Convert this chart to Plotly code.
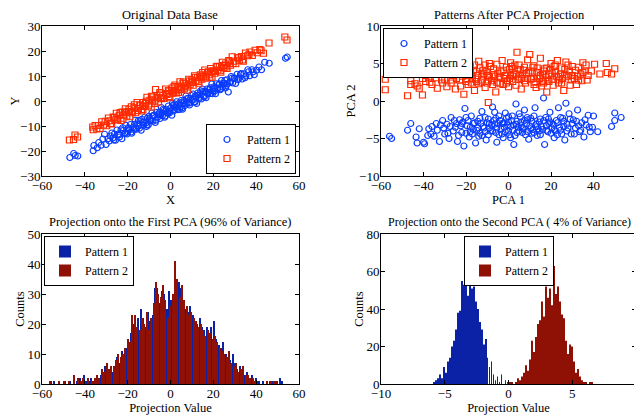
import plotly.graph_objects as go

# --- data ----------------------------------------------------------------
# Original data base (X, Y)
p1_x = [-47.0, -45.2, -44.5, -43.3, -36.1, -35.8, -34.2, -33.5, -32.4, -31.6, -30.8, -30.1, -29.2, -28.5,
        -27.4, -26.9, -26.2, -25.7, -25.0, -24.4, -23.8, -23.1, -22.7, -22.0, -21.4, -20.9, -20.3, -19.8,
        -19.2, -18.7, -18.1, -17.6, -17.0, -16.5, -15.9, -15.4, -14.8, -14.2, -13.7, -13.1, -12.6, -12.0,
        -11.5, -10.9, -10.4, -9.8, -9.3, -8.7, -8.2, -7.6, -7.1, -6.5, -6.0, -5.4, -4.9, -4.3, -3.8, -3.2,
        -2.7, -2.1, -1.6, -1.0, -0.5, 0.1, 0.6, 1.2, 1.7, 2.3, 2.8, 3.4, 3.9, 4.5, 5.0, 5.6, 6.1, 6.7,
        7.2, 7.8, 8.3, 8.9, 9.4, 10.0, 10.5, 11.1, 11.6, 12.2, 12.7, 13.3, 13.8, 14.4, 14.9, 15.5, 16.0,
        16.6, 17.1, 17.7, 18.2, 18.8, 19.3, 19.9, 20.4, 21.0, 21.5, 22.1, 22.6, 23.2, 23.8, 24.4, 25.0,
        25.7, 26.3, 27.0, 27.6, 28.3, 29.0, 29.7, 30.4, 31.1, 31.9, 32.7, 33.5, 34.3, 35.2, 36.1, 37.0,
        38.0, 39.1, 40.2, 41.3, 42.5, 44.0, 46.1, 53.7, 54.5, -20.0, -15.0, -11.0, -5.0, -1.3, 2.0, 4.2,
        9.0, 11.9, 15.2, 20.7, 26.6, -8.0, 6.4,
        -28.0, -26.5, -24.0, -22.3, -21.0, -19.5, -18.4, -16.8, -16.2, -14.5, -13.4, -12.3, -11.2, -10.1,
        -9.0, -7.9, -6.8, -5.7, -4.6, -3.5, -2.4, -1.9, -0.2, 0.9, 1.4, 2.6, 3.1, 4.8, 5.3, 6.9, 7.5, 8.6,
        9.7, 10.8, 11.4, 12.9, 13.5, 14.1, 15.8, 16.3, 17.4, 18.5, 19.6, 20.1, 21.8, 22.9, 23.5, 24.7,
        25.4, 26.0, 28.0, 28.7, 30.0, 31.5, 33.0, 34.8, 36.5, 38.6]
p1_y = [-22.6, -21.0, -21.8, -22.0, -19.9, -17.8, -18.7, -16.6, -17.7, -15.2, -13.3, -17.4, -15.1, -16.0,
        -12.8, -14.8, -13.2, -15.7, -11.6, -13.2, -14.4, -11.5, -15.1, -11.8, -12.8, -9.7, -13.2, -10.7,
        -11.6, -9.4, -12.9, -10.6, -11.4, -7.7, -11.3, -9.2, -10.0, -7.9, -11.7, -8.6, -9.7, -6.4,
        -8.8, -6.9, -9.6, -7.1, -7.5, -4.8, -8.1, -5.8, -8.6, -4.6, -6.5, -5.5, -7.0, -2.6, -5.9, -3.8,
        -6.5, -3.9, -4.5, -2.0, -4.8, -2.8, -5.7, -1.7, -3.4, -2.5, -0.3, -3.5, -1.0, -2.4, 0.2, -3.3,
        -0.7, -1.8, 2.0, -0.7, 1.1, -1.6, 1.0, 0.4, 2.8, -0.3, 2.1, -1.0, 3.2, 1.4, 2.4, 0.8, 4.8, 2.0,
        4.0, 1.3, 4.8, 3.5, 4.5, 3.0, 6.8, 4.0, 5.0, 2.9, 6.9, 5.2, 6.6, 4.5, 8.2, 5.6, 7.2, 5.2, 8.5,
        3.6, 7.5, 9.8, 7.2, 9.3, 7.0, 10.7, 9.1, 10.7, 8.8, 10.9, 10.0, 12.5, 10.1, 12.5, 10.5, 12.3,
        13.6, 12.5, 15.5, 15.1, 17.1, 17.6, -12.3, -7.8, -9.6, -4.4, -4.9, -1.2, -3.4, -0.6, 1.8, 3.8,
        4.0, 6.9, -5.9, 0.2,
        -14.0, -15.6, -13.5, -10.7, -13.0, -11.0, -12.4, -9.3, -10.8, -10.9, -7.3, -8.3, -10.2, -6.1,
        -7.8, -5.7, -7.7, -5.2, -5.6, -3.3, -6.0, -3.3, -4.0, -0.9, -4.0, -1.9, -3.0, -0.6, -2.8, -1.1,
        0.9, -0.9, 2.2, 0.6, -0.5, 2.4, 1.0, 4.1, 1.7, 3.6, 2.8, 5.3, 2.9, 5.6, 4.8, 6.9, 4.9, 6.9, 8.3,
        6.2, 7.6, 9.2, 9.0, 8.5, 11.0, 9.3, 11.7, 11.7]
p2_x = [-47.2, -45.3, -44.6, -43.4, -36.3, -36.1, -35.2, -34.4, -33.6, -32.9, -32.1, -31.3, -30.5, -29.8,
        -29.0, -28.3, -27.5, -26.8, -26.0, -25.3, -24.6, -23.9, -23.1, -22.5, -21.8, -21.1, -20.4, -19.7,
        -19.0, -18.3, -17.7, -17.0, -16.3, -15.6, -15.0, -14.3, -13.6, -13.0, -12.3, -11.6, -11.0, -10.3,
        -9.6, -9.0, -8.3, -7.6, -7.0, -6.3, -5.6, -5.0, -4.3, -3.6, -3.0, -2.3, -1.6, -1.0, -0.3, 0.4,
        1.1, 1.7, 2.4, 3.1, 3.8, 4.4, 5.1, 5.8, 6.5, 7.2, 7.8, 8.5, 9.2, 9.9, 10.6, 11.2, 11.9, 12.6,
        13.3, 13.9, 14.6, 15.3, 16.0, 16.6, 17.3, 18.0, 18.7, 19.4, 20.0, 20.7, 21.4, 22.1, 22.8, 23.5,
        24.2, 24.9, 25.7, 26.4, 27.2, 28.0, 28.8, 29.6, 30.5, 31.3, 32.2, 33.1, 34.0, 35.0, 36.0, 37.1,
        38.2, 39.5, 40.5, 41.7, 42.3, 43.4, 46.0, 53.4, 54.4, -21.5, -16.7, -12.8, -8.7, -4.7, -0.7, 3.5,
        6.9, 10.2, 14.3, 19.0, 23.9,
        -28.0, -26.4, -24.9, -23.5, -22.2, -20.8, -19.4, -18.0, -16.9, -15.3, -14.0, -12.9, -11.3, -10.0,
        -8.9, -7.3, -6.0, -4.8, -3.3, -2.0, -0.8, 0.8, 1.4, 2.1, 2.9, 4.0, 4.8, 6.1, 6.8, 8.1, 8.8, 10.4,
        11.6, 12.9, 13.6, 15.0, 16.3, 17.6, 18.4, 19.7, 21.0, 21.8, 23.2, 24.6, 26.0, 27.6, 29.2, 31.8,
        33.6, 36.6]
p2_y = [-15.6, -15.4, -13.6, -14.4, -10.4, -11.5, -9.8, -11.2, -9.8, -11.0, -8.3, -9.6, -8.1, -9.9,
        -6.8, -7.9, -9.2, -6.4, -7.6, -4.9, -7.5, -5.7, -7.8, -4.4, -5.6, -3.1, -6.0, -4.2, -6.3, -2.3,
        -4.3, -2.7, -4.7, -0.6, -3.0, -1.5, -4.0, -0.6, -2.2, -1.0, 1.5, -1.9, 0.3, -2.4, 1.6, 0.0, 4.6,
        1.5, -0.4, 3.4, 0.9, 2.2, 1.0, 4.8, 2.6, 4.1, 1.3, 4.2, 3.1, 5.8, 4.0, 5.6, 3.4, 7.7, 5.5, 7.1,
        5.1, 6.9, 4.4, 8.7, 6.7, 8.5, 6.3, 10.1, 8.1, 9.3, 7.1, 10.5, 8.7, 9.9, 12.4, 9.1, 11.3, 10.5,
        13.0, 9.5, 12.0, 11.1, 13.7, 12.4, 13.8, 11.5, 15.5, 13.2, 14.8, 13.0, 16.2, 14.3, 17.7, 15.9,
        14.9, 17.3, 16.3, 17.8, 15.9, 19.2, 18.1, 19.6, 18.2, 20.3, 19.3, 20.6, 20.1, 19.1, 23.2, 25.6,
        24.4, -4.5, -2.9, -1.9, 0.7, 1.3, 4.1, 4.5, 6.0, 7.9, 10.0, 11.6, 13.4,
        -9.0, -6.6, -7.1, -4.6, -6.9, -4.7, -3.3, -4.7, -1.5, -3.8, -1.9, -3.4, -0.1, -1.2, 1.9, -1.0,
        1.4, 2.8, 1.2, 3.0, 1.8, 5.2, 3.5, 6.4, 3.2, 5.6, 4.6, 7.6, 6.1, 5.6, 8.0, 7.4, 9.5, 7.8, 9.5,
        11.4, 9.6, 11.7, 9.5, 12.1, 11.8, 13.9, 12.1, 14.2, 13.6, 15.7, 15.0, 17.3, 16.4, 18.5]

# Patterns after PCA projection (PCA 1, PCA 2)
pca1_p1 = [-56.0, -55.0, -47.5, -46.0, -43.5, -43.0, -42.0, -40.0, -39.5, -38.0, -37.5, -36.0, -35.0,
           -33.5, -32.5, -31.0, -30.0, -29.0, -28.0, -27.0, -26.0, -25.0, -24.0, -23.0, -22.0, -21.0,
           -20.5, -19.5, -18.5, -17.5, -16.5, -15.5, -14.5, -13.5, -12.5, -11.5, -10.5, -9.5, -8.5, -7.5,
           -6.5, -5.5, -4.5, -3.5, -2.5, -1.5, -0.5, 0.5, 1.5, 2.5, 3.5, 4.5, 5.5, 6.5, 7.5, 8.5, 9.5,
           10.5, 11.5, 12.5, 13.5, 14.5, 15.5, 16.5, 17.0, 17.5, 18.5, 19.5, 20.5, 21.5, 22.5, 23.5, 24.5,
           25.5, 26.5, 27.0, 27.5, 28.5, 29.5, 30.5, 31.5, 32.5, 33.5, 34.5, 35.5, 36.5, 37.5, 38.5, 39.5,
           40.0, 42.0, 48.5, 50.0, 50.0, 53.0, -5.0, 0.0, 2.0, 6.0, 9.0, 11.0, -9.0, -13.0, 14.0, 19.0,
           4.0, -2.0, -24.5, -23.5, -22.5, -21.5, -20.0, -19.0, -18.0, -17.0, -16.0, -15.0, -14.0, -13.5,
           -12.0, -11.0, -10.0, -9.5, -8.0, -7.0, -6.0, -5.5, -4.0, -3.0, -2.0, -1.0, 0.0, 1.0, 1.8, 3.0,
           3.8, 5.0, 5.8, 7.0, 8.0, 8.8, 10.0, 11.0, 12.0, 13.0, 14.5, 15.0, 16.0, 17.8, 18.8, 20.0, 21.0,
           22.0, 23.0, 24.0, 25.0, 26.0, 28.0, 29.0, 31.0, 33.0, 36.0, 38.0, -27.5, -30.5, -34.0, -36.5,
           -22.0, -20.0, -18.0, -16.5, -14.5, -12.5, -11.0, -9.0, -7.5, -6.0, -4.5, -3.0, -1.5, 0.0, 1.0,
           2.5, 4.0, 5.0, 6.5, 7.5, 9.0, 10.5, 12.0, 13.5, 15.0, 16.5, 18.0, 19.5, 21.5, 23.0, 24.5, 26.0,
           27.5, 30.0, 32.0, 34.0, -25.5, -28.5, -32.0, -6.5]
pca2_p1 = [-4.7, -5.0, -3.9, -3.0, -4.8, -5.6, -3.7, -5.5, -5.7, -4.6, -3.7, -3.4, -4.7, -3.9, -5.4,
           -2.6, -4.4, -3.1, -5.0, -2.2, -4.0, -3.5, -5.4, -2.5, -4.2, -6.0, -1.0, -3.3, -4.8, -2.0,
           -3.8, -5.6, -2.7, -4.3, -1.4, -3.6, -5.2, -2.4, -4.0, -0.8, -3.1, -5.5, -2.0, -3.7, -4.9,
           -1.6, -3.2, -4.5, -2.6, -5.8, -0.4, -3.5, -2.1, -4.2, -1.2, -3.0, -5.1, -2.3, -3.8, -0.9,
           -4.6, -2.8, -3.4, 0.4, -5.8, -2.2, -4.1, -1.5, -3.6, -4.9, -2.6, -0.9, -3.9, -2.3, -5.2,
           -0.3, -3.1, -1.7, -4.4, -2.5, -3.6, -1.2, -4.1, -2.9, -4.8, -3.2, -1.9, -4.1, -3.5, -2.0,
           -4.1, -3.4, -2.6, -1.6, -2.2, -3.0, -2.8, -3.9, -3.3, -2.5, -4.3, -3.6, -3.0, -3.7, -3.0,
           -2.7, -2.9, -3.0, -4.6, -3.3, -2.8, -4.3, -2.6, -3.5, -4.4, -2.9, -3.9, -4.7, -2.3, -3.4,
           -4.1, -2.9, -4.5, -3.2, -2.6, -4.2, -3.6, -2.6, -4.4, -3.5, -2.3, -4.0, -3.4, -2.0, -4.6,
           -3.1, -4.0, -2.8, -3.7, -4.5, -2.2, -3.3, -2.7, -4.2, -3.1, -4.0, -2.4, -3.8, -3.3, -2.4,
           -4.3, -3.1, -4.0, -2.9, -3.5, -4.4, -2.7, -3.6, -2.4, -4.4, -3.3, -2.5, -3.5, -3.4, -3.6,
           -3.0, -4.4,
           -3.0, -2.2, -4.1, -3.0, -3.6, -4.6, -2.2, -3.0, -4.0, -2.3, -4.5, -3.0, -4.1, -2.1, -4.9,
           -3.2, -4.2, -1.7, -3.6, -2.6, -4.1, -3.7, -2.0, -3.4, -4.5, -2.6, -3.9, -2.8, -3.8, -4.5,
           -2.2, -3.4, -4.0, -3.0, -2.7, -3.9, -2.6, -4.3, -3.2, -1.5]
pca1_p2 = [-58.0, -58.0, -51.0, -47.5, -46.0, -46.0, -43.5, -43.0, -42.0, -40.5, -40.5, -39.0, -37.5,
           -36.0, -35.0, -33.5, -32.5, -31.5, -30.0, -29.0, -28.0, -27.0, -26.0, -25.0, -24.0, -23.0,
           -22.0, -21.0, -20.0, -19.0, -18.0, -17.0, -16.0, -15.0, -14.0, -13.0, -12.0, -11.0, -10.0,
           -9.5, -9.0, -8.0, -7.0, -6.0, -5.0, -4.0, -3.0, -2.0, -1.0, 0.0, 1.0, 2.0, 3.0, 4.0, 5.0,
           6.0, 7.0, 8.0, 9.0, 10.0, 11.0, 12.0, 13.0, 14.0, 15.0, 16.0, 17.0, 18.0, 19.0, 20.0, 21.0,
           22.0, 23.0, 24.0, 25.0, 26.0, 27.0, 28.0, 29.0, 30.0, 31.0, 32.0, 33.0, 34.0, 35.0, 36.0,
           37.5, 46.0, 46.5, 48.5, 50.0, -15.5, -10.5, -4.5, 0.5, 4.5, 8.5, 13.5, 18.5, -7.5, 2.5,
           10.5, 16.5, -24.5, -23.5, -22.5, -21.5, -20.5, -19.5, -18.5, -17.5, -16.5, -15.0, -14.5,
           -13.5, -12.5, -11.5, -10.0, -9.0, -8.5, -6.5, -5.5, -3.5, -2.5, -1.5, -0.5, 1.5, 2.0, 3.5,
           5.5, 6.5, 7.5, 9.5, 11.5, 12.5, 14.5, 15.5, 16.0, 17.5, 19.5, 20.5, 21.5, 22.5, 23.5, 24.5,
           25.5, 26.5, 28.5, 29.5, 31.5, 32.5, 34.5, 36.5, -26.5, -28.5, -31.0, -34.0, -37.0, 39.0,
           37.0, 40.5, -44.0, 43.0,
           -22.5, -20.0, -18.0, -16.0, -14.0, -12.5, -11.0, -9.5, -7.0, -5.5, -4.0, -2.5, -1.0, 0.5, 2.0,
           3.5, 5.0, 6.0, 7.5, 9.0, 10.5, 12.0, 13.5, 15.0, 16.5, 18.0, 19.0, 20.5, 22.0, 23.5, 25.0,
           26.5, 28.0, 30.0, 33.0, 35.0, -27.0, -30.0, -33.0, 1.0]
pca2_p2 = [2.9, 1.5, 3.6, 0.7, 2.7, 2.2, 4.2, 2.0, 1.7, 0.8, 3.0, 2.6, 3.1, 2.2, 3.6, 1.7, 4.4, 2.8,
           3.7, 1.9, 4.9, 2.4, 3.4, 1.6, 4.2, 2.8, 5.1, 0.9, 3.6, 2.2, 4.6, 3.0, 1.4, 3.9, 5.3, 2.5,
           4.1, 1.8, 3.4, -0.2, 5.0, 2.7, 4.3, 1.2, 3.7, 2.3, 5.4, 3.0, 4.5, 1.9, 3.5, 2.6, 4.8, 6.5,
           3.2, 1.6, 4.1, 2.4, 5.5, 6.2, 3.0, 4.7, 1.8, 3.8, 5.7, 2.6, 4.3, 1.2, 3.5, 5.0, 2.1, 3.9,
           5.4, 2.8, 4.4, 1.4, 5.2, 3.3, 2.1, 4.6, 3.0, 2.2, 4.5, 3.6, 5.1, 4.0, 3.4, 5.0, 3.8, 3.6,
           4.3, 2.9, 3.9, 3.1, 4.2, 2.9, 3.7, 3.2, 2.8, 2.2, 3.6, 2.9, 4.0, 3.0, 3.9, 2.0, 3.3, 4.4,
           2.9, 3.6, 2.4, 4.1, 2.6, 3.4, 4.4, 2.8, 3.7, 2.4, 3.2, 4.6, 3.3, 2.5, 3.9, 2.2, 3.4, 2.7,
           4.6, 3.3, 2.1, 4.2, 3.5, 2.7, 3.8, 4.5, 2.5, 3.0, 2.0, 3.6, 3.1, 4.1, 2.9, 4.6, 3.3, 2.4,
           3.6, 3.0, 4.2, 3.9, 2.8, 4.1, 3.3, 2.7, 4.8, 2.8, 3.5, 2.4, 3.1, 2.5, 4.0, 2.8, 4.9, 2.3,
           3.6,
           4.0, 2.6, 3.4, 4.8, 2.3, 3.6, 4.8, 2.8, 3.5, 4.9, 3.2, 4.1, 2.4, 3.0, 4.3, 3.6, 4.8, 3.0,
           4.5, 3.0, 4.0, 2.2, 4.4, 3.4, 2.4, 4.4, 2.6, 3.7, 4.8, 3.3, 2.4, 3.5, 4.8, 3.4, 2.8, 3.8,
           3.9, 2.9, 3.8, 5.1]

# Histogram of the first PCA projection (100 bins)
hist1_start, hist1_width = -56.5, 1.1
hist1_p1 = [0, 1, 1, 0, 0, 0, 0, 1, 0, 1,
            0, 0, 1, 2, 1, 3, 1, 1, 2, 1,
            2, 2, 3, 3, 6, 4, 5, 4, 6, 9,
            7, 11, 9, 12, 14, 17, 20, 18, 22, 25,
            22, 19, 24, 21, 23, 32, 32, 27, 31, 30,
            25, 31, 28, 26, 30, 34, 32, 27, 25, 24,
            26, 23, 21, 20, 22, 19, 18, 19, 17, 19,
            21, 15, 13, 12, 14, 10, 9, 8, 10, 7,
            5, 6, 4, 3, 4, 2, 3, 1, 2, 1,
            0, 1, 0, 0, 1, 1, 0, 1, 2, 1]
hist1_p2 = [1, 0, 0, 0, 1, 0, 1, 0, 1, 0,
            3, 0, 2, 1, 2, 1, 2, 0, 1, 2,
            3, 2, 5, 4, 7, 5, 6, 6, 8, 10,
            9, 10, 12, 15, 14, 23, 23, 19, 18, 22,
            20, 24, 18, 22, 27, 34, 30, 29, 33, 28,
            22, 26, 30, 41, 35, 29, 33, 28, 26, 23,
            24, 22, 21, 19, 20, 18, 16, 18, 17, 15,
            16, 14, 12, 11, 10, 9, 11, 7, 6, 7,
            4, 5, 6, 3, 3, 2, 2, 1, 1, 0,
            0, 0, 1, 0, 1, 1, 1, 0, 0, 0]

# Histogram of the second PCA projection (80 bins)
hist2_start, hist2_width = -5.82, 0.156
hist2_p1 = [1, 2, 3, 5, 3, 9, 6, 12, 14, 20,
            23, 29, 38, 39, 55, 53, 60, 47, 55, 51,
            52, 44, 40, 33, 29, 21, 24, 14, 9, 12,
            5, 2, 4, 1, 5, 0, 2, 0, 0, 0,
            0, 0, 0, 0, 0, 0, 0, 0, 0, 0,
            0, 0, 0, 0, 0, 0, 0, 0, 0, 0,
            0, 0, 0, 0, 0, 0, 0, 0, 0, 0,
            0, 0, 0, 0, 0, 0, 0, 0, 0, 0]
hist2_p2 = [0, 0, 0, 0, 0, 0, 0, 0, 0, 0,
            0, 0, 0, 0, 0, 0, 0, 0, 0, 0,
            0, 0, 0, 0, 0, 0, 0, 0, 0, 0,
            0, 0, 0, 0, 0, 0, 0, 1, 1, 1,
            0, 1, 3, 2, 4, 6, 10, 7, 13, 23,
            17, 25, 32, 34, 44, 36, 52, 46, 51, 42,
            63, 48, 52, 44, 37, 35, 23, 16, 21, 20,
            12, 6, 8, 4, 2, 1, 1, 0, 1, 1]

hist1_x = [hist1_start + hist1_width * i for i in range(len(hist1_p1))]
hist2_x = [hist2_start + hist2_width * i for i in range(len(hist2_p1))]

BLUE_PT = "#0a3cff"
RED_PT = "#ff2a00"
BLUE_BAR = "#0b22a6"
RED_BAR = "#8f1106"
FONT = "Liberation Serif"

# the page body keeps its 8px default margin, so work in screen pixels minus that offset
OFF = 8
W, H = 642 - OFF, 416 - OFF


def fx(px):
    return (px - OFF) / W


def fy(py):
    return 1 - (py - OFF) / H


fig = go.Figure()


def pts(x, y, name, legend, symbol, color, xa, ya):
    return go.Scatter(x=x, y=y, mode="markers", name=name, legend=legend,
                      marker=dict(symbol=symbol, size=6, color=color, line=dict(width=1.2)),
                      xaxis=xa, yaxis=ya)


# scatter, original data
fig.add_trace(pts(p1_x, p1_y, "Pattern 1", "legend", "circle-open", BLUE_PT, "x", "y"))
fig.add_trace(pts(p2_x, p2_y, "Pattern 2", "legend", "square-open", RED_PT, "x", "y"))
# scatter, PCA projection
fig.add_trace(pts(pca1_p1, pca2_p1, "Pattern 1", "legend2", "circle-open", BLUE_PT, "x2", "y2"))
fig.add_trace(pts(pca1_p2, pca2_p2, "Pattern 2", "legend2", "square-open", RED_PT, "x2", "y2"))
# histograms
fig.add_trace(go.Bar(x=hist1_x, y=hist1_p1, name="Pattern 1", legend="legend3",
                     marker=dict(color=BLUE_BAR, line=dict(width=0)), xaxis="x3", yaxis="y3"))
fig.add_trace(go.Bar(x=hist1_x, y=hist1_p2, name="Pattern 2", legend="legend3",
                     marker=dict(color=RED_BAR, line=dict(width=0)), xaxis="x3", yaxis="y3"))
fig.add_trace(go.Bar(x=hist2_x, y=hist2_p1, name="Pattern 1", legend="legend4",
                     marker=dict(color=BLUE_BAR, line=dict(width=0)), xaxis="x4", yaxis="y4"))
fig.add_trace(go.Bar(x=hist2_x, y=hist2_p2, name="Pattern 2", legend="legend4",
                     marker=dict(color=RED_BAR, line=dict(width=0)), xaxis="x4", yaxis="y4"))


def ax(domain, rng, dtick, title, anchor, xaxis=True):
    d = dict(domain=domain, range=rng, dtick=dtick, tick0=0, showgrid=False, zeroline=False,
             showline=True, linecolor="black", linewidth=1, mirror="allticks", automargin=False,
             ticks="inside", ticklen=4, tickcolor="black", tickfont=dict(size=13, color="black"),
             anchor=anchor, ticklabelstandoff=-3 if xaxis else -2,
             title=dict(text=title, font=dict(size=12.5, color="black"), standoff=0))
    return d


left = [fx(42), fx(299)]
right = [fx(381), min(fx(636), 1.0)]
top = [fy(176), fy(26)]
bottom = [fy(384), fy(234)]

leg = dict(bgcolor="white", bordercolor="black", borderwidth=1, font=dict(size=12, color="black"),
           itemwidth=30, tracegroupgap=0)

fig.update_layout(
    template="none",
    width=W, height=H,
    margin=dict(l=0, r=0, t=0, b=0),
    paper_bgcolor="white", plot_bgcolor="white",
    font=dict(family=FONT, color="black"),
    barmode="group", bargap=0.1, bargroupgap=0,
    xaxis=ax(left, [-60, 60], 20, "X", "y"),
    yaxis=ax(top, [-30, 30], 10, "Y", "x", False),
    xaxis2=ax(right, [-60, 60], 20, "PCA 1", "y2"),
    yaxis2=ax(top, [-10, 10], 5, "PCA 2", "x2", False),
    xaxis3=ax(left, [-60, 60], 20, "Projection Value", "y3"),
    yaxis3=ax(bottom, [0, 50], 10, "Counts", "x3", False),
    xaxis4=ax(right, [-10, 10], 5, "Projection Value", "y4"),
    yaxis4=ax(bottom, [0, 80], 20, "Counts", "x4", False),
    legend=dict(leg, x=fx(296), xanchor="right", y=fy(174), yanchor="bottom"),
    legend2=dict(leg, x=fx(383), xanchor="left", y=fy(28), yanchor="top"),
    legend3=dict(leg, x=fx(44), xanchor="left", y=fy(236), yanchor="top"),
    legend4=dict(leg, x=fx(509), xanchor="center", y=fy(236), yanchor="top"),
    showlegend=True,
)

titles = [
    ("Original Data Base", 170, 15, 12.5),
    ("Patterns After PCA Projection", 509, 15, 12.5),
    ("Projection onto the First PCA (96% of Variance)", 170, 222, 12.5),
    ("Projection onto the Second PCA ( 4% of Variance)", 509, 222, 12),
]
for text, px, py, size in titles:
    fig.add_annotation(text=text, x=fx(px), y=fy(py), xref="paper", yref="paper",
                       showarrow=False, font=dict(size=size, color="black"), xanchor="center",
                       yanchor="middle", borderpad=0)

fig.write_html("out.html")
